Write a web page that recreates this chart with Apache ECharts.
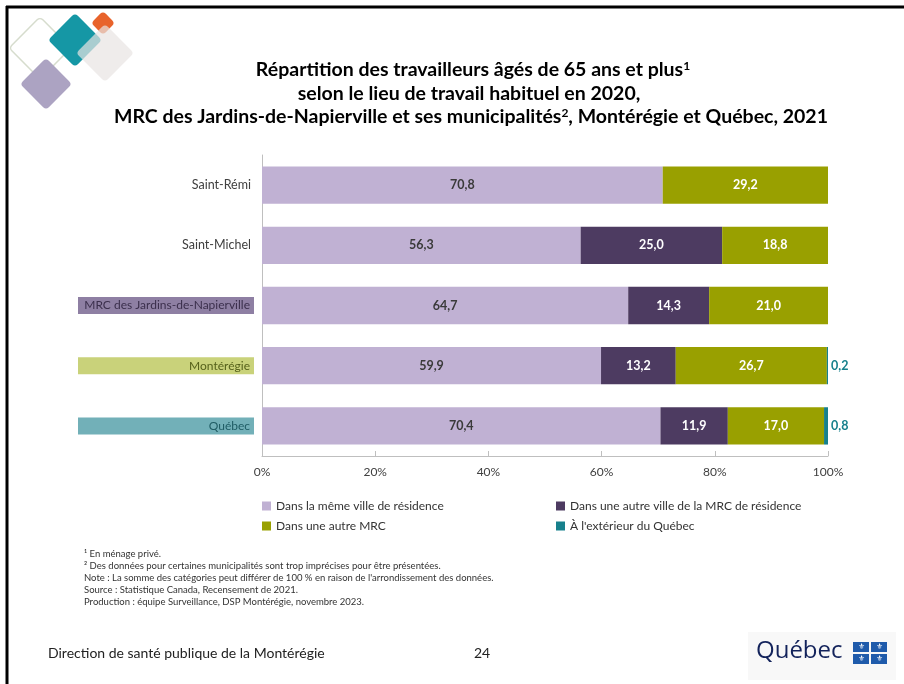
<!DOCTYPE html>
<html>
<head>
<meta charset="utf-8">
<script src="https://cdn.jsdelivr.net/npm/echarts@6/dist/echarts.min.js"></script>
<style>
  html, body { margin: 0; padding: 0; background: #fff; }
  #main { width: 904px; height: 684px; }
</style>
</head>
<body>
<div id="main"></div>
<script>
// données (en %)
var categories = ['Saint-Rémi', 'Saint-Michel', 'MRC des Jardins-de-Napierville', 'Montérégie', 'Québec'];
var memeVille = [70.8, 56.3, 64.7, 59.9, 70.4];
var autreVille = [null, 25.0, 14.3, 13.2, 11.9];
var autreMRC = [29.2, 18.8, 21.0, 26.7, 17.0];
var exterieur = [null, null, null, 0.2, 0.8];
var tickValues = [0, 20, 40, 60, 80, 100];

var seriesNames = [
    'Dans la même ville de résidence',
    'Dans une autre ville de la MRC de résidence',
    'Dans une autre MRC',
    "À l'extérieur du Québec"
];

var FONT = 'Lato, "Open Sans", sans-serif';

function virgule(p) {
    if (p.value == null) return '';
    return Number(p.value).toFixed(1).replace('.', ',');
}

// losange décoratif (coin haut gauche)
function losange(cx, cy, demiDiag, style, z) {
    var s = demiDiag * Math.SQRT2;
    return {
        type: 'rect', x: cx, y: cy, rotation: Math.PI / 4, z: z,
        shape: { x: -s / 2, y: -s / 2, width: s, height: s, r: 4 },
        style: style, silent: true
    };
}

var myChart = echarts.init(document.getElementById('main'));

var labelRich = {
    plain: { fontSize: 12.5, color: '#404040', fontFamily: FONT, align: 'right', padding: [0, 3, 0, 0] },
    mrc: { fontSize: 12, color: '#3b2f4c', fontFamily: FONT, backgroundColor: '#8e7fa3', width: 168, height: 13, padding: [2, 4, 2, 4], align: 'right' },
    mont: { fontSize: 12, color: '#55601a', fontFamily: FONT, backgroundColor: '#c9d27a', width: 168, height: 13, padding: [2, 4, 2, 4], align: 'right' },
    qc: { fontSize: 12, color: '#1f5c64', fontFamily: FONT, backgroundColor: '#72b0b8', width: 168, height: 13, padding: [2, 4, 2, 4], align: 'right' }
};

var option = {
    backgroundColor: '#fff',
    animation: false,
    color: ['#c0b1d3', '#4d3b61', '#99a000', '#17808c'],
    textStyle: { fontFamily: FONT },
    grid: { left: 262, right: 76, top: 155, bottom: 228 },
    legend: [{
        left: 257, top: 495, orient: 'vertical', itemGap: 8,
        itemWidth: 9, itemHeight: 9, icon: 'rect',
        textStyle: { fontSize: 12, color: '#333', fontFamily: FONT },
        data: [seriesNames[0], seriesNames[2]]
    }, {
        left: 551, top: 495, orient: 'vertical', itemGap: 8,
        itemWidth: 9, itemHeight: 9, icon: 'rect',
        textStyle: { fontSize: 12, color: '#333', fontFamily: FONT },
        data: [seriesNames[1], seriesNames[3]]
    }],
    xAxis: {
        type: 'value', min: 0, max: 100, interval: 20,
        axisLine: { show: true, lineStyle: { color: '#bfbfbf' } },
        axisTick: { show: true, inside: true, length: 5, lineStyle: { color: '#bfbfbf' } },
        splitLine: { show: false },
        axisLabel: {
            color: '#404040', fontSize: 12, margin: 10,
            formatter: function (v) { return tickValues.indexOf(v) >= 0 ? v + '%' : ''; }
        }
    },
    yAxis: {
        type: 'category', inverse: true, data: categories,
        axisLine: { show: true, lineStyle: { color: '#bfbfbf' } },
        axisTick: { show: false },
        axisLabel: {
            margin: 8,
            formatter: function (v, i) {
                if (i === 2) return '{mrc|' + v + '}';
                if (i === 3) return '{mont|' + v + '}';
                if (i === 4) return '{qc|' + v + '}';
                return '{plain|' + v + '}';
            },
            rich: labelRich
        }
    },
    series: [{
        name: seriesNames[0], type: 'bar', stack: 'total', data: memeVille, barWidth: '62%',
        label: { show: true, position: 'inside', formatter: virgule, color: '#3a3a3a', fontWeight: 'bold', fontSize: 12.5 }
    }, {
        name: seriesNames[1], type: 'bar', stack: 'total', data: autreVille,
        label: { show: true, position: 'inside', formatter: virgule, color: '#fff', fontWeight: 'bold', fontSize: 12.5 }
    }, {
        name: seriesNames[2], type: 'bar', stack: 'total', data: autreMRC,
        label: { show: true, position: 'inside', formatter: virgule, color: '#fff', fontWeight: 'bold', fontSize: 12.5 }
    }, {
        name: seriesNames[3], type: 'bar', stack: 'total', data: exterieur,
        label: { show: true, position: 'right', distance: 3, formatter: virgule, color: '#17808c', fontWeight: 'bold', fontSize: 12.5 }
    }],
    graphic: [
        // cadre
        { type: 'line', shape: { x1: 6, y1: 7, x2: 904, y2: 7 }, style: { stroke: '#000', lineWidth: 3 }, silent: true },
        { type: 'line', shape: { x1: 7, y1: 6, x2: 7, y2: 684 }, style: { stroke: '#000', lineWidth: 3 }, silent: true },
        // losanges
        losange(40, 48, 31, { fill: 'none', stroke: '#d6dccd', lineWidth: 1.5 }, 1),
        losange(75, 40, 27, { fill: '#1597a5' }, 2),
        losange(103, 23, 12, { fill: '#e8632b' }, 3),
        losange(105, 53, 29, { fill: 'rgba(232,228,226,0.7)' }, 4),
        losange(46, 84, 26, { fill: '#aca3c2' }, 5),
        // titre
        {
            type: 'text', x: 473, y: 70, z: 10,
            style: {
                text: '{t|Répartition des travailleurs âgés de 65 ans et plus}{s|1}',
                align: 'center', verticalAlign: 'middle',
                rich: { t: { fontSize: 19.5, fontWeight: 'bold', fontFamily: FONT, fill: '#000' }, s: { fontSize: 12, fontWeight: 'bold', fontFamily: FONT, fill: '#000', verticalAlign: 'top', padding: [0, 0, 8, 0] } }
            }
        },
        {
            type: 'text', x: 469, y: 94, z: 10,
            style: { text: 'selon le lieu de travail habituel en 2020,', align: 'center', verticalAlign: 'middle', font: 'bold 19.5px ' + FONT, fill: '#000' }
        },
        {
            type: 'text', x: 471, y: 117, z: 10,
            style: {
                text: '{t|MRC des Jardins-de-Napierville et ses municipalités}{s|2}{t|, Montérégie et Québec, 2021}',
                align: 'center', verticalAlign: 'middle',
                rich: { t: { fontSize: 19.5, fontWeight: 'bold', fontFamily: FONT, fill: '#000' }, s: { fontSize: 12, fontWeight: 'bold', fontFamily: FONT, fill: '#000', verticalAlign: 'top', padding: [0, 0, 8, 0] } }
            }
        },
        // notes
        {
            type: 'text', left: 84, top: 548, z: 10,
            style: {
                text: '¹ En ménage privé.\n² Des données pour certaines municipalités sont trop imprécises pour être présentées.\nNote : La somme des catégories peut différer de 100 % en raison de l\'arrondissement des données.\nSource : Statistique Canada, Recensement de 2021.\nProduction : équipe Surveillance, DSP Montérégie, novembre 2023.',
                font: '9.5px ' + FONT, fill: '#333', lineHeight: 12
            }
        },
        // pied de page
        { type: 'text', left: 48, top: 646, style: { text: 'Direction de santé publique de la Montérégie', font: '14px ' + FONT, fill: '#222' } },
        { type: 'text', left: 474, top: 646, style: { text: '24', font: '14px ' + FONT, fill: '#222' } },
        { type: 'rect', shape: { x: 748, y: 632, width: 148, height: 48 }, style: { fill: '#f8f8f8' }, silent: true },
        { type: 'text', left: 756, top: 639, z: 10, style: { text: 'Québec', font: '24px "Open Sans", sans-serif', fill: '#13235b' } },
        { type: 'rect', z: 10, shape: { x: 853, y: 642, width: 16, height: 10 }, style: { fill: '#1f5bab' } },
        { type: 'rect', z: 10, shape: { x: 871, y: 642, width: 16, height: 10 }, style: { fill: '#1f5bab' } },
        { type: 'rect', z: 10, shape: { x: 853, y: 654, width: 16, height: 10 }, style: { fill: '#1f5bab' } },
        { type: 'rect', z: 10, shape: { x: 871, y: 654, width: 16, height: 10 }, style: { fill: '#1f5bab' } },
        { type: 'text', z: 11, x: 861, y: 647, style: { text: '⚜', font: '8px sans-serif', fill: '#fff', align: 'center', verticalAlign: 'middle' } },
        { type: 'text', z: 11, x: 879, y: 647, style: { text: '⚜', font: '8px sans-serif', fill: '#fff', align: 'center', verticalAlign: 'middle' } },
        { type: 'text', z: 11, x: 861, y: 659, style: { text: '⚜', font: '8px sans-serif', fill: '#fff', align: 'center', verticalAlign: 'middle' } },
        { type: 'text', z: 11, x: 879, y: 659, style: { text: '⚜', font: '8px sans-serif', fill: '#fff', align: 'center', verticalAlign: 'middle' } }
    ]
};

myChart.setOption(option);
window.addEventListener('resize', function () {
    myChart.resize();
});
</script>
</body>
</html>
